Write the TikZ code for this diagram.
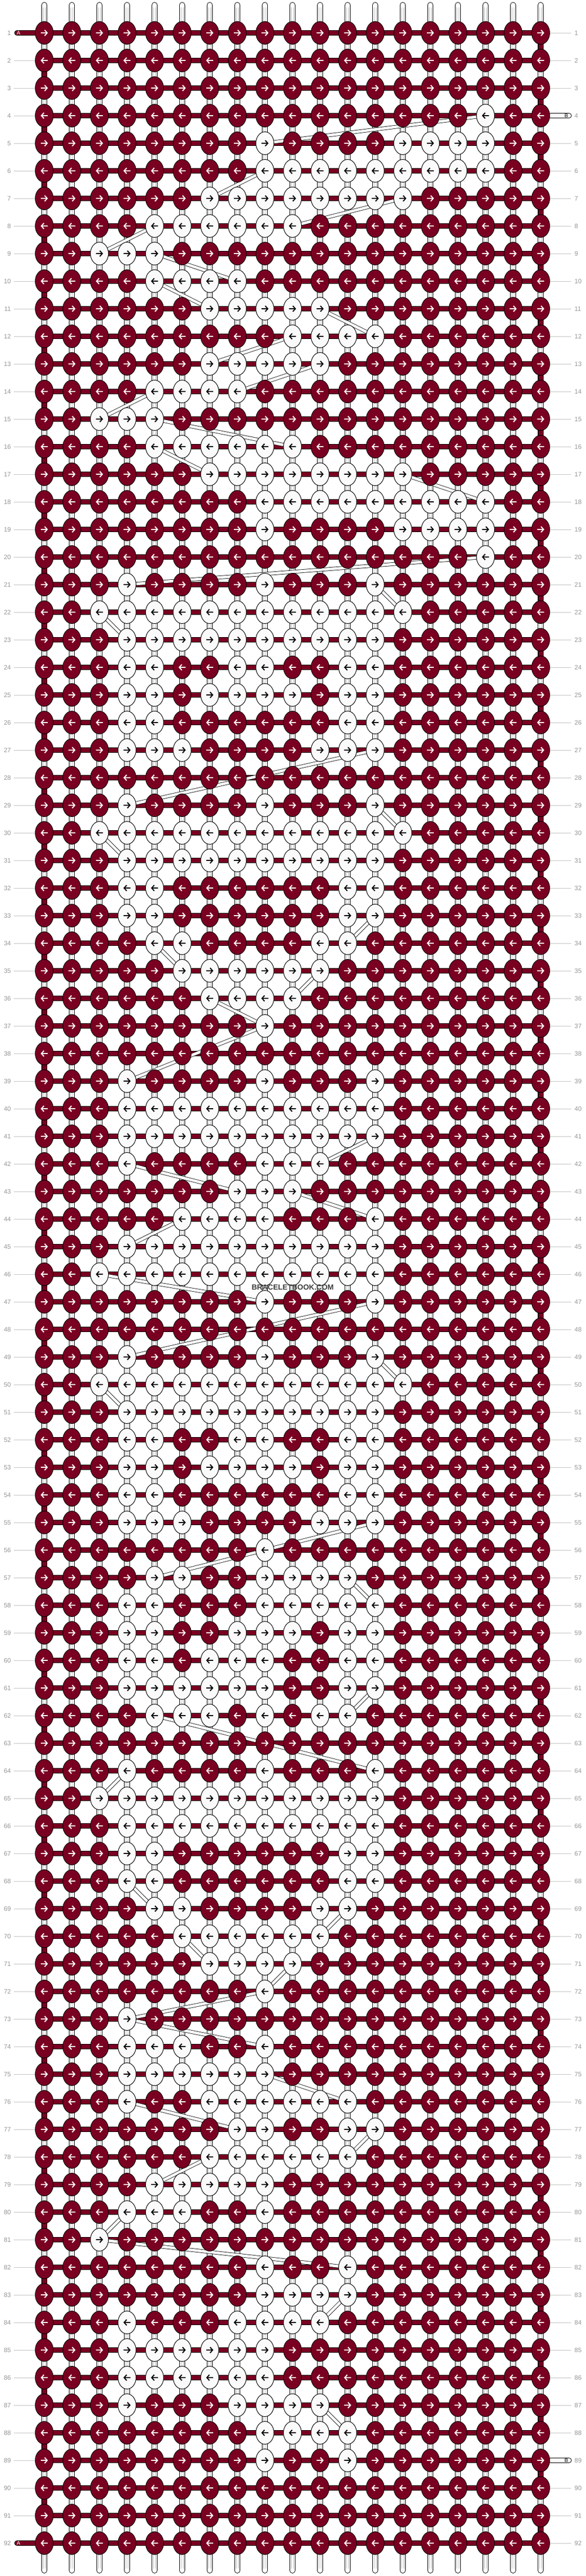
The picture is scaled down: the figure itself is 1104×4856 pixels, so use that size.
\documentclass[tikz,border=0pt]{standalone}
\usepackage{fontspec}
\setmainfont{Liberation Sans}
\usetikzlibrary{shapes.geometric}
\usetikzlibrary{arrows.meta}
\usetikzlibrary{backgrounds}
\definecolor{knotred}{RGB}{122,0,34}
\definecolor{knotwhite}{RGB}{250,250,250}
\definecolor{numgray}{RGB}{150,150,150}
\definecolor{linegray}{RGB}{195,195,195}
\definecolor{markgray}{RGB}{60,60,60}

% knot colours: white where the column is in the list of the row
\makeatletter
\newcommand\setknot[2]{%
  \edef\kn@test{\noexpand\in@{,#1,}{,#2,}}\kn@test
  \ifin@\def\kfill{knotwhite}\def\kpen{black}%
  \else\def\kfill{knotred}\def\kpen{white}\fi}
\makeatother

\begin{document}
\begin{tikzpicture}[x=0.5pt, y=-0.5pt,
    knot/.style={ellipse, draw=black, line width=0.5pt, minimum width=17pt, minimum height=21.5pt, inner sep=0pt},
    knotarrow/.style={line width=1pt, -{Straight Barb[length=2.4pt,width=5.4pt]}},
    warp/.style={line width=0.5pt, double=white, double distance=4.5pt, line cap=round},
    warpcore/.style={line width=0.3pt, draw=black!25, double=white, double distance=1.8pt},
    threadA/.style={line width=0.5pt, double=knotred, double distance=4pt, line cap=round, line join=round},
    threadB/.style={line width=0.5pt, double=knotwhite, double distance=4pt, line cap=round},
    carryB/.style={line width=0.4pt, double=knotwhite, double distance=2.6pt},
    rownum/.style={font=\fontsize{6pt}{6pt}\selectfont, text=numgray, inner sep=0pt},
    numline/.style={draw=linegray, line width=0.5pt}]

    \useasboundingbox (0,0) rectangle (1104,4856);

    % knots, row by row: row / white columns
    \foreach \r/\ws in {1/0, 2/0, 3/0, 4/{17}, 5/{9,14,15,16,17},
        6/{9,10,11,12,13,14,15,16,17}, 7/{7,8,9,10,11,12,13,14}, 8/{5,6,7,8,9,10},
        9/{3,4,5}, 10/{5,6,7,8}, 11/{7,8,9,10,11}, 12/{10,11,12,13},
        13/{7,8,9,10,11}, 14/{5,6,7,8}, 15/{3,4,5}, 16/{5,6,7,8,9,10},
        17/{7,8,9,10,11,12,13,14}, 18/{9,10,11,12,13,14,15,16,17},
        19/{9,14,15,16,17}, 20/{17}, 21/{4,9,13},
        22/{3,4,5,6,7,8,9,10,11,12,13,14}, 23/{4,5,6,7,8,9,10,11,12,13},
        24/{4,5,8,9,12,13}, 25/{4,5,7,8,9,10,12,13}, 26/{4,5,12,13},
        27/{4,5,6,11,12,13}, 28/0, 29/{4,9,13},
        30/{3,4,5,6,7,8,9,10,11,12,13,14}, 31/{4,5,6,7,8,9,10,11,12,13},
        32/{4,5,12,13}, 33/{4,5,12,13}, 34/{5,6,11,12}, 35/{6,7,8,9,10,11},
        36/{7,8,9,10}, 37/{9}, 38/0, 39/{4,9,13},
        40/{4,5,6,7,8,9,10,11,12,13}, 41/{4,5,6,7,8,9,10,11,12,13},
        42/{4,9,10,11}, 43/{8,9,10}, 44/{6,7,8,9,13},
        45/{4,5,6,7,8,9,10,11,12,13}, 46/{3,4,5,6,7,8,9,10,11,12,13},
        47/{9,13}, 48/0, 49/{4,9,13},
        50/{3,4,5,6,7,8,9,10,11,12,13,14}, 51/{4,5,6,7,8,9,10,11,12,13},
        52/{4,5,8,9,12,13}, 53/{4,5,7,8,9,10,12,13}, 54/{4,5,12,13},
        55/{4,5,6,11,12,13}, 56/{9}, 57/{5,6,9,10,11,12},
        58/{4,5,9,10,11,12,13}, 59/{4,5,8,9,10,12,13}, 60/{4,5,7,8,9,12,13},
        61/{4,5,6,7,8,9,12,13}, 62/{5,6,7,9,11,12}, 63/0, 64/{4,9,13},
        65/{3,4,5,6,7,8,9,10,11,12,13}, 66/{4,5,6,7,8,9,10,11,12,13},
        67/{4,5,12,13}, 68/{4,5,12,13}, 69/{5,6,11,12}, 70/{6,7,8,9,10,11},
        71/{7,8,9,10}, 72/{9}, 73/{4}, 74/{4,5,6,9}, 75/{4,5,6,7,8,9},
        76/{4,7,8,9,10,11,12}, 77/{8,9,12,13}, 78/{7,8,9,10,11,12},
        79/{5,6,7,8,9}, 80/{4,5,6,9}, 81/{3}, 82/{9,12}, 83/{9,10,11,12},
        84/{4,8,9,10,11}, 85/{4,5,6,7,8,9}, 86/{4,5,6,7,8,9},
        87/{4,8,9,10,11}, 88/{9,10,11,12}, 89/{9,12}, 90/0, 91/0, 92/0} {
        \ifodd\r \def\xa{-3.4pt}\def\xb{3.4pt}\else \def\xa{3.4pt}\def\xb{-3.4pt}\fi
        \foreach \c in {1,...,19} {
            \setknot{\c}{\ws}
            \node[knot, fill=\kfill] (k-\r-\c) at ({83.5+52*(\c-1)}, {62+52*(\r-1)}) {};
            \draw[knotarrow, draw=\kpen] ([xshift=\xa]k-\r-\c.center) -- ([xshift=\xb]k-\r-\c.center);
        }
        \node[rownum, anchor=east] (ln-\r) at (21, {62+52*(\r-1)}) {\r};
        \node[rownum, anchor=west] (rn-\r) at (1083, {62+52*(\r-1)}) {\r};
    }

    % thread ends
    \coordinate (A-in) at (32, 62);
    \coordinate (A-out) at (32, 4794);
    \coordinate (B-in) at (1073, 218);
    \coordinate (B-out) at (1073, 4638);
    \node[font=\fontsize{5pt}{5pt}\selectfont, text=white, inner sep=0pt] (A-top) at (35, 62) {A};
    \node[font=\fontsize{5pt}{5pt}\selectfont, text=white, inner sep=0pt] (A-bot) at (35, 4794) {A};
    \node[font=\fontsize{5pt}{5pt}\selectfont, inner sep=0pt] (B-top) at (1068, 218) {B};
    \node[font=\fontsize{5pt}{5pt}\selectfont, inner sep=0pt] (B-bot) at (1068, 4638) {B};

    \node[font=\bfseries\fontsize{7pt}{7pt}\selectfont, text=markgray, inner sep=0pt] (mark) at (552, 2427) {BRACELETBOOK.COM};

    \begin{pgfonlayer}{background}
        % warp strings
        \foreach \c in {1,...,19} {
            \coordinate (top-\c) at ({83.5+52*(\c-1)}, 9.5);
            \coordinate (bot-\c) at ({83.5+52*(\c-1)}, 4845.5);
            \draw[warp] (top-\c) -- (bot-\c);
            \draw[warpcore] ([yshift=-2pt]top-\c) -- ([yshift=2pt]bot-\c);
        }

        % string A, back and forth
        \draw[threadA] (A-in) -- (k-1-1.center)
            \foreach \r [evaluate=\r as \s using int(\r+1)] in {1,3,...,91} {
                -- (k-\r-1.center) -- (k-\r-19.center) -- (k-\s-19.center) -- (k-\s-1.center)
            } -- (A-out);

        % string B in and out
        \draw[threadB] (B-in) -- (k-4-19.center);
        \draw[threadB] (k-89-19.center) -- (B-out);

        % string B carried behind
        \foreach \ra/\ca/\rb/\cb in {4/17/5/9, 6/9/7/7, 7/14/8/10, 8/5/9/3, 9/5/10/8,
            10/5/11/7, 11/11/12/13, 12/10/13/7, 13/11/14/8, 14/5/15/3, 15/5/16/10,
            16/5/17/7, 17/14/18/17, 20/17/21/4, 21/13/22/14, 22/3/23/4, 27/13/29/4,
            29/13/30/14, 30/3/31/4, 33/13/34/12, 34/5/35/6, 35/11/36/10, 36/7/37/9,
            37/9/39/4, 41/13/42/11, 42/4/43/8, 43/10/44/13, 44/6/45/4, 46/3/47/9,
            47/13/49/4, 49/13/50/14, 50/3/51/4, 55/13/56/9, 56/9/57/5, 57/12/58/13,
            61/13/62/12, 62/5/64/13, 64/4/65/3, 68/4/69/5, 69/12/70/11, 70/6/71/7,
            71/10/72/9, 72/9/73/4, 73/4/74/9, 75/9/76/12, 76/4/77/8, 77/13/78/12,
            78/7/79/5, 80/4/81/3, 81/3/82/12, 83/12/84/11, 87/11/88/12} {
            \draw[carryB] (k-\ra-\ca.center) -- (k-\rb-\cb.center);
        }

        % row number leaders
        \foreach \r in {2,...,92} {
            \ifnum\r=92\else
                \draw[numline] ([xshift=2.5pt]ln-\r.east) -- (k-\r-1.west);
            \fi
        }
        \foreach \r in {1,...,92} {
            \ifnum\r=4\else\ifnum\r=89\else
                \draw[numline] (k-\r-19.east) -- ([xshift=-3pt]rn-\r.west);
            \fi\fi
        }
    \end{pgfonlayer}
\end{tikzpicture}
\end{document}
